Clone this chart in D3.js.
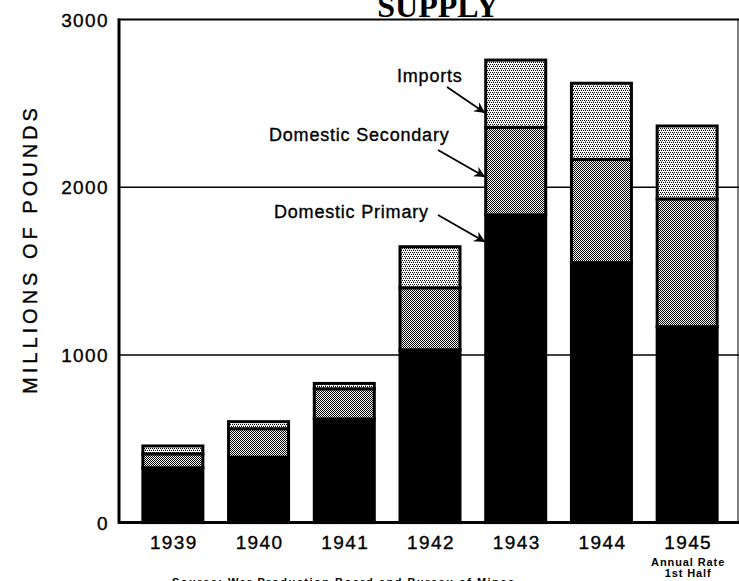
<!DOCTYPE html>
<html>
<head>
<meta charset="utf-8">
<script src="https://cdn.jsdelivr.net/npm/d3@7"></script>
<style>
  body { margin: 0; background: #fff; }
  svg { display: block; }
  text { font-family: "Liberation Sans", Arial, sans-serif; fill: #000; }
  .lbl { stroke: #000; stroke-width: 0.35px; }
</style>
</head>
<body>
<svg id="chart" width="739" height="581"></svg>
<script>
// values in millions of pounds
const years = ["1939", "1940", "1941", "1942", "1943", "1944", "1945"];
const primary = [327, 390, 618, 1030, 1835, 1550, 1168];
const secondary = [83, 170, 180, 370, 522, 616, 762];
const imports = [47, 42, 32, 245, 401, 454, 435];
const yTicks = [0, 1000, 2000, 3000];
const gridValues = [1000, 2000];

const svg = d3.select("#chart");

const plotLeft = 118, plotRight = 738, plotTop = 19.5, plotBottom = 522.6;

const x = d3.scaleBand()
  .domain(years)
  .range([plotLeft, 742])
  .paddingInner(0.3)
  .paddingOuter(0.29);

const y = d3.scaleLinear()
  .domain([0, 3000])
  .range([plotBottom, plotTop]);

// fill patterns
const defs = svg.append("defs");
const dots = defs.append("pattern")
  .attr("id", "dots").attr("width", 4).attr("height", 4)
  .attr("patternUnits", "userSpaceOnUse");
dots.append("rect").attr("width", 4).attr("height", 4).attr("fill", "#fff");
[[0, 0], [2, 0], [1, 2], [3, 2]].forEach(p => {
  dots.append("rect").attr("x", p[0]).attr("y", p[1]).attr("width", 1).attr("height", 1).attr("fill", "#000");
});
dots.append("rect").attr("x", 1).attr("y", 1).attr("width", 1).attr("height", 1).attr("fill", "#888");

const checks = defs.append("pattern")
  .attr("id", "checks").attr("width", 2).attr("height", 2)
  .attr("patternUnits", "userSpaceOnUse");
checks.append("rect").attr("width", 2).attr("height", 2).attr("fill", "#fff");
checks.append("rect").attr("width", 1).attr("height", 1).attr("fill", "#000");
checks.append("rect").attr("x", 1).attr("y", 1).attr("width", 1).attr("height", 1).attr("fill", "#000");

// title, cut off at the top of the picture as in the original
svg.append("text")
  .attr("x", 438).attr("y", 17)
  .attr("text-anchor", "middle")
  .style("font-family", "'Liberation Serif', 'Times New Roman', serif")
  .style("font-weight", "bold")
  .style("font-size", "32px")
  .text("SUPPLY");

// grid lines
svg.append("g")
  .selectAll("line")
  .data(gridValues)
  .join("line")
  .attr("x1", plotLeft).attr("x2", 739)
  .attr("y1", d => y(d)).attr("y2", d => y(d))
  .attr("stroke", "#000").attr("stroke-width", 1.5);

// frame
svg.append("line")
  .attr("x1", plotLeft).attr("x2", 739).attr("y1", y(3000)).attr("y2", y(3000))
  .attr("stroke", "#000").attr("stroke-width", 2);
svg.append("line")
  .attr("x1", plotRight).attr("x2", plotRight).attr("y1", y(3000)).attr("y2", y(0))
  .attr("stroke", "#000").attr("stroke-width", 1);

// stacked bars
const table = years.map((yr, i) => ({
  year: yr, primary: primary[i], secondary: secondary[i], imports: imports[i]
}));
const keys = ["primary", "secondary", "imports"];
const fills = { primary: "#000", secondary: "url(#checks)", imports: "url(#dots)" };
const stacked = d3.stack().keys(keys)(table);

svg.append("g")
  .selectAll("g")
  .data(stacked)
  .join("g")
  .attr("fill", d => fills[d.key])
  .selectAll("rect")
  .data(d => d)
  .join("rect")
  .attr("x", d => x(d.data.year))
  .attr("width", x.bandwidth())
  .attr("y", d => y(d[1]))
  .attr("height", d => y(d[0]) - y(d[1]))
  .attr("stroke", "#000")
  .attr("stroke-width", 3);

// left and bottom axis lines
svg.append("line")
  .attr("x1", plotLeft + 1).attr("x2", plotLeft + 1).attr("y1", y(3000) - 1).attr("y2", y(0) + 1)
  .attr("stroke", "#000").attr("stroke-width", 3);
svg.append("line")
  .attr("x1", plotLeft).attr("x2", 739).attr("y1", y(0)).attr("y2", y(0))
  .attr("stroke", "#000").attr("stroke-width", 3);

// y tick labels
svg.append("g")
  .selectAll("text")
  .data(yTicks)
  .join("text")
  .attr("class", "lbl")
  .attr("x", 109)
  .attr("y", d => y(d) + 7)
  .attr("text-anchor", "end")
  .style("font-size", "19px")
  .style("letter-spacing", "1.4px")
  .text(d => d);

// x labels
svg.append("g")
  .selectAll("text")
  .data(years)
  .join("text")
  .attr("class", "lbl")
  .attr("x", d => x(d) + x.bandwidth() / 2 + 1)
  .attr("y", 549)
  .attr("text-anchor", "middle")
  .style("font-size", "19px")
  .style("letter-spacing", "1.4px")
  .text(d => d);

const note = svg.append("text")
  .attr("text-anchor", "middle")
  .style("font-size", "11px")
  .style("font-weight", "bold")
  .style("letter-spacing", "0.9px");
note.append("tspan").attr("x", x("1945") + x.bandwidth() / 2 + 1).attr("y", 566).text("Annual Rate");
note.append("tspan").attr("x", x("1945") + x.bandwidth() / 2 + 1).attr("y", 577).text("1st Half");

// y axis title
svg.append("text")
  .attr("class", "lbl")
  .attr("transform", "translate(37,249) rotate(-90)")
  .attr("text-anchor", "middle")
  .style("font-size", "20px")
  .style("letter-spacing", "4px")
  .text("MILLIONS OF POUNDS");

// source line, cut off at the bottom as in the original
svg.append("text")
  .attr("x", 172).attr("y", 586)
  .style("font-size", "11px")
  .style("font-weight", "bold")
  .style("letter-spacing", "1.5px")
  .text("Source: War Production Board and Bureau of Mines");

// annotations with arrows
defs.append("marker")
  .attr("id", "head")
  .attr("viewBox", "0 0 10 10")
  .attr("refX", 10).attr("refY", 5)
  .attr("markerWidth", 17).attr("markerHeight", 11)
  .attr("markerUnits", "userSpaceOnUse")
  .attr("orient", "auto")
  .append("path")
  .attr("d", "M0,0 L10,5 L0,10 L3,5 Z")
  .attr("fill", "#000");

const x43 = x("1943");
const labels = [
  { text: "Imports", tx: 397, ty: 82, sx: 447, sy: 87, ey: 113 },
  { text: "Domestic Secondary", tx: 269, ty: 141, sx: 438, sy: 150, ey: 177 },
  { text: "Domestic Primary", tx: 274, ty: 218, sx: 438, sy: 215, ey: 242 }
];

svg.append("g")
  .selectAll("text")
  .data(labels)
  .join("text")
  .attr("class", "lbl")
  .attr("x", d => d.tx).attr("y", d => d.ty)
  .style("font-size", "18px")
  .style("letter-spacing", "0.8px")
  .text(d => d.text);

svg.append("g")
  .selectAll("line")
  .data(labels)
  .join("line")
  .attr("x1", d => d.sx).attr("y1", d => d.sy)
  .attr("x2", x43 - 0.5)
  .attr("y2", d => d.ey)
  .attr("stroke", "#000").attr("stroke-width", 1.8)
  .attr("marker-end", "url(#head)");
</script>
</body>
</html>
